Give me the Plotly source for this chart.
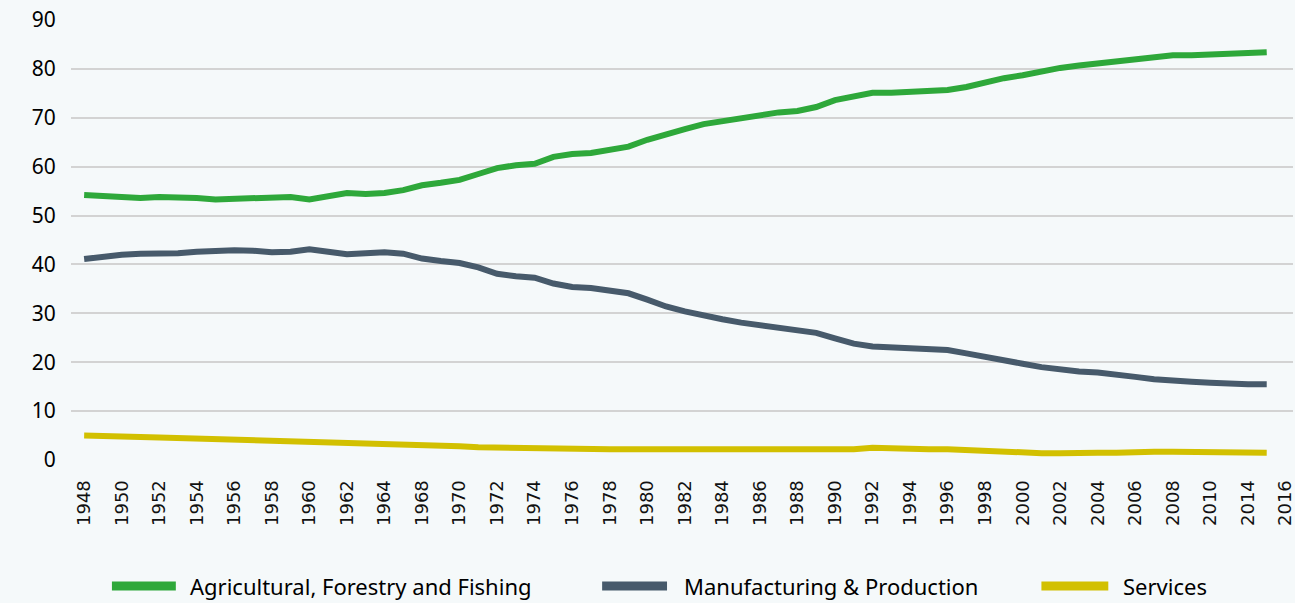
import plotly.graph_objects as go

years = ["1948","1949","1950","1951","1952","1953","1954","1955","1956","1957",
         "1958","1959","1960","1961","1962","1963","1964","1966","1968","1969",
         "1970","1971","1972","1973","1974","1975","1976","1977","1978","1979",
         "1980","1981","1982","1983","1984","1985","1986","1987","1988","1989",
         "1990","1991","1992","1993","1994","1995","1996","1997","1998","1999",
         "2000","2001","2002","2003","2004","2005","2006","2007","2008","2009",
         "2010","2012","2014","2015","2016"]

agri = [54.2,53.9,53.7,53.6,53.8,53.8,53.6,53.3,53.4,53.5,
        53.8,53.8,53.3,54.1,54.6,54.4,54.6,55.2,56.2,56.7,
        57.3,58.5,59.7,60.3,60.6,62.0,62.6,62.8,63.3,64.1,
        65.5,66.7,67.7,68.7,69.3,70.2,70.8,71.1,71.4,72.2,
        73.6,74.3,75.1,75.1,75.3,75.5,75.7,76.3,77.3,78.1,
        78.7,79.6,80.2,80.7,81.1,81.4,82.0,82.5,82.8,82.8,
        83.0,83.2,83.3,83.4,None]

manu = [41.1,41.7,42.0,42.2,42.1,42.3,42.6,42.9,42.9,42.8,
        42.5,42.6,43.1,42.6,42.1,42.3,42.5,42.2,41.2,40.7,
        40.3,39.4,38.1,37.6,37.3,36.1,35.4,35.2,34.8,34.1,
        32.8,31.4,30.4,29.5,28.8,28.1,27.6,27.1,26.6,26.0,
        24.9,23.8,23.2,23.1,22.9,22.7,22.5,21.8,21.0,20.4,
        19.7,19.0,18.5,18.1,17.9,17.6,17.0,16.5,16.1,16.0,
        15.8,15.5,15.5,15.5,None]

serv = [5.0,5.0,4.8,4.7,4.6,4.5,4.4,4.3,4.2,4.2,
        4.1,4.0,3.9,3.8,3.7,3.6,3.4,3.3,3.1,2.9,
        2.8,2.6,2.5,2.5,2.4,2.3,2.3,2.2,2.2,2.2,
        2.2,2.2,2.2,2.2,2.2,2.2,2.2,2.2,2.1,2.1,
        2.1,2.2,2.5,2.3,2.2,2.2,2.2,2.0,1.8,1.6,
        1.4,1.4,1.4,1.6,1.5,1.5,1.7,1.7,1.7,1.7,
        1.6,1.8,1.6,1.5,None]

names = ["Agricultural, Forestry and Fishing", "Manufacturing & Production", "Services"]
colors = ["#2ea83a", "#475a6b", "#d2c000"]
y_ticks = [0, 10, 20, 30, 40, 50, 60, 70, 80, 90]

BG = "#f5f9fa"
W, H = 1295, 603
ML, MR, MT, MB = 71, 0, 20, 143

fig = go.Figure()
for name, vals, col in zip(names, [agri, manu, serv], colors):
    fig.add_trace(go.Scatter(x=years, y=vals, mode="lines", name=name,
                             line=dict(color=col, width=6), showlegend=False))

fig.update_layout(
    width=W, height=H,
    margin=dict(l=ML, r=MR, t=MT, b=MB),
    paper_bgcolor=BG, plot_bgcolor=BG,
    xaxis=dict(type="category", categoryorder="array", categoryarray=years,
               tickmode="array", tickvals=years[::2], ticktext=years[::2],
               tickangle=-90, showgrid=False, zeroline=False, showline=False,
               ticks="outside", ticklen=12, tickcolor="rgba(0,0,0,0)",
               tickfont=dict(family="DejaVu Sans", size=18, color="#111111"),
               range=[-0.7, 64.4]),
    yaxis=dict(range=[0, 90], tickvals=y_ticks, showgrid=True,
               gridcolor="#d3d3d3", gridwidth=1.5, zeroline=False, showline=False,
               ticks="outside", ticklen=10, tickcolor="rgba(0,0,0,0)",
               tickfont=dict(family="Noto Sans", size=21, color="#000000")),
)

# manual legend (wide swatches like the reference)
pw = W - ML - MR
ph = H - MT - MB
def px_x(px):
    return (px - ML) / pw
def px_y(py):
    return (H - MB - py) / ph

leg_items = [(112, 176, 188), (603, 668, 683), (1043, 1110, 1123)]
for (x0, x1, tx), name, col in zip(leg_items, names, colors):
    fig.add_shape(type="line", xref="paper", yref="paper",
                  x0=px_x(x0), x1=px_x(x1), y0=px_y(586), y1=px_y(586),
                  line=dict(color=col, width=9))
    fig.add_annotation(xref="paper", yref="paper", x=px_x(tx), y=px_y(586),
                       text=name, showarrow=False, xanchor="left", yanchor="middle",
                       font=dict(family="Noto Sans", size=22, color="#000000"))

fig.write_html("out.html", config={"displayModeBar": False},
               post_script="document.body.style.margin='0';")
